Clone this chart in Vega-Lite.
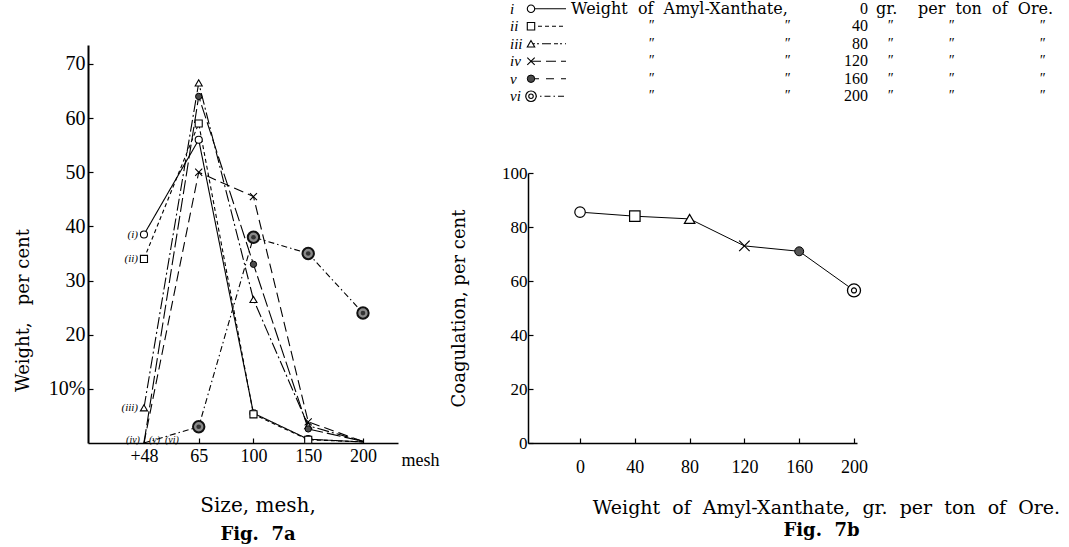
{
  "$schema": "https://vega.github.io/schema/vega-lite/v6.json",
  "background": "white",
  "padding": {"left": 14, "top": 0, "right": 0, "bottom": 0},
  "bounds": "flush",
  "spacing": 440,
  "config": {
    "view": {"stroke": null},
    "font": "DejaVu Serif",
    "axis": {
      "grid": false,
      "domainColor": "black",
      "domainWidth": 1.5,
      "tickColor": "black",
      "tickWidth": 1.2,
      "tickSize": -5,
      "labelColor": "black",
      "labelFont": "Liberation Serif",
      "titleColor": "black",
      "titleFont": "DejaVu Serif",
      "titleFontWeight": "normal",
      "titleFontSize": 18
    },
    "text": {"color": "black"}
  },
  "datasets": {
    "sieve": [
      {"s": "i", "tag": "(i)", "mesh": "+48", "w": 38.5},
      {"s": "i", "tag": "(i)", "mesh": "65", "w": 56},
      {"s": "i", "tag": "(i)", "mesh": "100", "w": 5.5},
      {"s": "i", "tag": "(i)", "mesh": "150", "w": 0.7},
      {"s": "i", "tag": "(i)", "mesh": "200", "w": 0.2},
      {"s": "ii", "tag": "(ii)", "mesh": "+48", "w": 34},
      {"s": "ii", "tag": "(ii)", "mesh": "65", "w": 59},
      {"s": "ii", "tag": "(ii)", "mesh": "100", "w": 5.3},
      {"s": "ii", "tag": "(ii)", "mesh": "150", "w": 0.6},
      {"s": "ii", "tag": "(ii)", "mesh": "200", "w": 0.2},
      {"s": "iii", "tag": "(iii)", "mesh": "+48", "w": 6.5},
      {"s": "iii", "tag": "(iii)", "mesh": "65", "w": 66.5},
      {"s": "iii", "tag": "(iii)", "mesh": "100", "w": 26.5},
      {"s": "iii", "tag": "(iii)", "mesh": "150", "w": 3.2},
      {"s": "iii", "tag": "(iii)", "mesh": "200", "w": 0.3},
      {"s": "iv", "tag": "(iv)", "mesh": "+48", "w": 0},
      {"s": "iv", "tag": "(iv)", "mesh": "65", "w": 50},
      {"s": "iv", "tag": "(iv)", "mesh": "100", "w": 45.5},
      {"s": "iv", "tag": "(iv)", "mesh": "150", "w": 3.9},
      {"s": "iv", "tag": "(iv)", "mesh": "200", "w": 0.3},
      {"s": "v", "tag": "(v)", "mesh": "+48", "w": 0},
      {"s": "v", "tag": "(v)", "mesh": "65", "w": 64},
      {"s": "v", "tag": "(v)", "mesh": "100", "w": 33},
      {"s": "v", "tag": "(v)", "mesh": "150", "w": 2.6},
      {"s": "v", "tag": "(v)", "mesh": "200", "w": 0.3},
      {"s": "vi", "tag": "(vi)", "mesh": "+48", "w": 0},
      {"s": "vi", "tag": "(vi)", "mesh": "65", "w": 3},
      {"s": "vi", "tag": "(vi)", "mesh": "100", "w": 38},
      {"s": "vi", "tag": "(vi)", "mesh": "150", "w": 35},
      {"s": "vi", "tag": "(vi)", "mesh": "200", "w": 24}
    ],
    "coag": [
      {"s": "i", "dose": 0, "coag": 85.5},
      {"s": "ii", "dose": 40, "coag": 84},
      {"s": "iii", "dose": 80, "coag": 83},
      {"s": "iv", "dose": 120, "coag": 73},
      {"s": "v", "dose": 160, "coag": 71},
      {"s": "vi", "dose": 200, "coag": 56.5}
    ]
  },
  "resolve": {"scale": {"x": "independent", "y": "independent", "shape": "independent", "strokeDash": "independent"}},
  "hconcat": [
    {
      "bounds": "flush",
      "spacing": 20,
      "vconcat": [
        {
          "width": 310,
          "height": 25,
          "data": {"values": []},
          "mark": {"type": "point", "opacity": 0}
        },
        {
          "width": 310,
          "height": 398,
          "data": {"name": "sieve"},
          "title": {
            "text": "Size, mesh,",
            "subtitle": "Fig.\u00a0\u00a07a",
            "orient": "bottom",
            "anchor": "middle",
            "frame": "group",
            "dx": 15,
            "offset": 27,
            "font": "DejaVu Serif",
            "fontSize": 20,
            "fontWeight": "normal",
            "color": "black",
            "subtitleFont": "DejaVu Serif",
            "subtitleFontSize": 18,
            "subtitleFontWeight": "bold",
            "subtitleColor": "black",
            "subtitlePadding": 10
          },
          "encoding": {
            "x": {
              "field": "mesh",
              "type": "ordinal",
              "sort": ["+48", "65", "100", "150", "200"],
              "scale": {"type": "point", "padding": 0.831, "align": 0.615},
              "axis": {
                "title": "mesh",
                "titleFont": "Liberation Serif",
                "titleFontSize": 18,
                "titleAngle": 0,
                "titleAlign": "left",
                "titleBaseline": "middle",
                "titleX": 313,
                "titleY": 17,
                "labelAngle": 0,
                "labelFontSize": 18,
                "labelPadding": 9
              }
            },
            "y": {
              "field": "w",
              "type": "quantitative",
              "scale": {"domain": [0, 73.5], "nice": false},
              "axis": {
                "title": "Weight,\u00a0\u00a0\u00a0per cent",
                "values": [10, 20, 30, 40, 50, 60, 70],
                "labelExpr": "datum.value == 10 ? '10%' : datum.label",
                "labelFontSize": 20,
                "labelPadding": 8,
                "domainWidth": 2,
                "titleX": -65,
                "titleY": 265,
                "titleAlign": "center",
                "titleBaseline": "middle"
              }
            }
          },
          "layer": [
            {
              "mark": {"type": "line", "color": "black", "strokeWidth": 1.1},
              "encoding": {
                "detail": {"field": "s"},
                "strokeDash": {
                  "field": "s",
                  "type": "nominal",
                  "scale": {
                    "domain": ["i", "ii", "iii", "iv", "v", "vi"],
                    "range": [[1, 0], [4, 3], [12, 3, 2, 3], [10, 5], [14, 4], [6, 3, 1.5, 3]]
                  },
                  "legend": null
                }
              }
            },
            {
              "transform": [{"filter": "indexof(['i','ii','iii','iv'], datum.s) >= 0 && datum.w >= 0.5"}],
              "mark": {"type": "point", "filled": true, "fill": "white", "stroke": "black", "strokeWidth": 1.1, "size": 50, "opacity": 1},
              "encoding": {
                "shape": {
                  "field": "s",
                  "type": "nominal",
                  "scale": {
                    "domain": ["i", "ii", "iii", "iv"],
                    "range": ["circle", "square", "triangle-up", "M-1,-1L1,1M-1,1L1,-1"]
                  },
                  "legend": null
                }
              }
            },
            {
              "transform": [{"filter": "datum.s == 'v' && datum.w >= 0.5"}],
              "mark": {"type": "point", "shape": "circle", "filled": true, "fill": "#4a4a4a", "stroke": "black", "strokeWidth": 1, "size": 40, "opacity": 1}
            },
            {
              "transform": [{"filter": "datum.s == 'vi' && datum.w >= 0.5"}],
              "mark": {"type": "point", "shape": "circle", "filled": true, "fill": "#8a8a8a", "stroke": "#111111", "strokeWidth": 2, "size": 130, "opacity": 1}
            },
            {
              "transform": [{"filter": "datum.s == 'vi' && datum.w >= 0.5"}],
              "mark": {"type": "point", "shape": "circle", "filled": true, "fill": "#333333", "size": 22, "opacity": 1}
            },
            {
              "transform": [{"filter": "datum.mesh == '+48' && indexof(['i','ii','iii'], datum.s) >= 0"}],
              "mark": {"type": "text", "align": "right", "baseline": "middle", "dx": -6, "font": "Liberation Serif", "fontStyle": "italic", "fontSize": 11},
              "encoding": {"text": {"field": "tag"}}
            },
            {
              "transform": [{"filter": "datum.mesh == '+48' && datum.s == 'iv'"}],
              "mark": {"type": "text", "align": "right", "baseline": "bottom", "dx": -4, "dy": 2, "font": "Liberation Serif", "fontStyle": "italic", "fontSize": 10},
              "encoding": {"text": {"field": "tag"}}
            },
            {
              "transform": [{"filter": "datum.mesh == '+48' && datum.s == 'v'"}],
              "mark": {"type": "text", "align": "left", "baseline": "bottom", "dx": 5, "dy": 2, "font": "Liberation Serif", "fontStyle": "italic", "fontSize": 10},
              "encoding": {"text": {"field": "tag"}}
            },
            {
              "transform": [{"filter": "datum.mesh == '+48' && datum.s == 'vi'"}],
              "mark": {"type": "text", "align": "left", "baseline": "bottom", "dx": 21, "dy": 2, "font": "Liberation Serif", "fontStyle": "italic", "fontSize": 10},
              "encoding": {"text": {"field": "tag"}}
            }
          ]
        }
      ]
    },
    {
      "bounds": "flush",
      "spacing": 68,
      "resolve": {"scale": {"x": "independent", "y": "independent", "shape": "independent", "strokeDash": "independent"}},
      "vconcat": [
        {
          "width": 41,
          "height": 105,
          "data": {"name": "coag"},
          "encoding": {
            "y": {
              "field": "s",
              "type": "nominal",
              "sort": ["i", "ii", "iii", "iv", "v", "vi"],
              "scale": {"type": "point", "padding": 0.5},
              "axis": null
            }
          },
          "layer": [
            {
              "mark": {"type": "rule", "color": "black", "strokeWidth": 1.1},
              "encoding": {
                "x": {"datum": "mark", "type": "nominal", "scale": {"type": "point", "domain": ["mark", "lineEnd"], "padding": 0.0857, "align": 0.5}, "axis": null},
                "x2": {"datum": "lineEnd"},
                "strokeDash": {
                  "field": "s",
                  "type": "nominal",
                  "scale": {
                    "domain": ["i", "ii", "iii", "iv", "v", "vi"],
                    "range": [[1, 0], [4, 3], [4, 2, 2, 3, 9, 3], [10, 5], [8, 7], [6, 3, 1.5, 3]]
                  },
                  "legend": null
                }
              }
            },
            {
              "transform": [{"filter": "indexof(['i','ii','iii','iv'], datum.s) >= 0"}],
              "mark": {"type": "point", "filled": true, "fill": "white", "stroke": "black", "strokeWidth": 1.1, "size": 55, "opacity": 1},
              "encoding": {
                "x": {"datum": "mark", "type": "nominal"},
                "shape": {
                  "field": "s",
                  "type": "nominal",
                  "scale": {
                    "domain": ["i", "ii", "iii", "iv"],
                    "range": ["circle", "square", "triangle-up", "M-1,-1L1,1M-1,1L1,-1"]
                  },
                  "legend": null
                }
              }
            },
            {
              "transform": [{"filter": "datum.s == 'v'"}],
              "mark": {"type": "point", "shape": "circle", "filled": true, "fill": "#4a4a4a", "stroke": "black", "strokeWidth": 1, "size": 55, "opacity": 1},
              "encoding": {"x": {"datum": "mark", "type": "nominal"}}
            },
            {
              "transform": [{"filter": "datum.s == 'vi'"}],
              "mark": {"type": "point", "shape": "circle", "filled": true, "fill": "white", "stroke": "black", "strokeWidth": 1.2, "size": 110, "opacity": 1},
              "encoding": {"x": {"datum": "mark", "type": "nominal"}}
            },
            {
              "transform": [{"filter": "datum.s == 'vi'"}],
              "mark": {"type": "point", "shape": "circle", "filled": false, "stroke": "black", "strokeWidth": 1.1, "size": 20, "opacity": 1},
              "encoding": {"x": {"datum": "mark", "type": "nominal"}}
            },
            {
              "mark": {"type": "text", "align": "left", "baseline": "middle", "dx": -21, "font": "Liberation Serif", "fontStyle": "italic", "fontSize": 15},
              "encoding": {"x": {"datum": "mark", "type": "nominal"}, "text": {"field": "s"}}
            },
            {
              "transform": [{"filter": "datum.s == 'i'"}],
              "mark": {"type": "text", "align": "left", "baseline": "middle", "dx": 5, "font": "DejaVu Serif", "fontSize": 16, "text": "Weight\u00a0 of\u00a0 Amyl-Xanthate,"},
              "encoding": {"x": {"datum": "lineEnd", "type": "nominal"}}
            },
            {
              "transform": [{"filter": "datum.s != 'i'"}],
              "mark": {"type": "text", "align": "center", "baseline": "middle", "dx": 85, "font": "Liberation Serif", "fontStyle": "italic", "fontSize": 14, "text": "″"},
              "encoding": {"x": {"datum": "lineEnd", "type": "nominal"}}
            },
            {
              "transform": [{"filter": "datum.s != 'i'"}],
              "mark": {"type": "text", "align": "center", "baseline": "middle", "dx": 221, "font": "Liberation Serif", "fontStyle": "italic", "fontSize": 14, "text": "″"},
              "encoding": {"x": {"datum": "lineEnd", "type": "nominal"}}
            },
            {
              "mark": {"type": "text", "align": "right", "baseline": "middle", "dx": 302, "font": "Liberation Serif", "fontSize": 16},
              "encoding": {"x": {"datum": "lineEnd", "type": "nominal"}, "text": {"field": "dose", "type": "quantitative"}}
            },
            {
              "transform": [{"filter": "datum.s == 'i'"}],
              "mark": {"type": "text", "align": "left", "baseline": "middle", "dx": 310, "font": "DejaVu Serif", "fontSize": 16, "text": "gr."},
              "encoding": {"x": {"datum": "lineEnd", "type": "nominal"}}
            },
            {
              "transform": [{"filter": "datum.s != 'i'"}],
              "mark": {"type": "text", "align": "center", "baseline": "middle", "dx": 324, "font": "Liberation Serif", "fontStyle": "italic", "fontSize": 14, "text": "″"},
              "encoding": {"x": {"datum": "lineEnd", "type": "nominal"}}
            },
            {
              "transform": [{"filter": "datum.s == 'i'"}],
              "mark": {"type": "text", "align": "left", "baseline": "middle", "dx": 352, "font": "DejaVu Serif", "fontSize": 16, "text": "per\u00a0 ton\u00a0 of\u00a0 Ore."},
              "encoding": {"x": {"datum": "lineEnd", "type": "nominal"}}
            },
            {
              "transform": [{"filter": "datum.s != 'i'"}],
              "mark": {"type": "text", "align": "center", "baseline": "middle", "dx": 385, "font": "Liberation Serif", "fontStyle": "italic", "fontSize": 14, "text": "″"},
              "encoding": {"x": {"datum": "lineEnd", "type": "nominal"}}
            },
            {
              "transform": [{"filter": "datum.s != 'i'"}],
              "mark": {"type": "text", "align": "center", "baseline": "middle", "dx": 476, "font": "Liberation Serif", "fontStyle": "italic", "fontSize": 14, "text": "″"},
              "encoding": {"x": {"datum": "lineEnd", "type": "nominal"}}
            }
          ]
        },
        {
          "width": 329,
          "height": 270,
          "data": {"name": "coag"},
          "title": {
            "text": "Fig.\u00a0\u00a07b",
            "orient": "bottom",
            "anchor": "middle",
            "frame": "group",
            "dx": 129,
            "offset": 5,
            "font": "DejaVu Serif",
            "fontSize": 18,
            "fontWeight": "bold",
            "color": "black"
          },
          "encoding": {
            "x": {
              "field": "dose",
              "type": "quantitative",
              "scale": {"domain": [-38, 202.2], "nice": false, "zero": false},
              "axis": {
                "values": [0, 40, 80, 120, 160, 200],
                "title": "Weight\u00a0 of\u00a0 Amyl-Xanthate,\u00a0 gr.\u00a0 per\u00a0 ton\u00a0 of\u00a0 Ore.",
                "titleFontSize": 19,
                "titleX": 298,
                "titleY": 64,
                "titleAlign": "center",
                "titleBaseline": "middle",
                "labelFontSize": 18,
                "labelPadding": 20
              }
            },
            "y": {
              "field": "coag",
              "type": "quantitative",
              "scale": {"domain": [0, 100], "nice": false},
              "axis": {
                "values": [0, 20, 40, 60, 80, 100],
                "title": "Coagulation, per cent",
                "titleX": -60,
                "labelFontSize": 17,
                "labelPadding": 6
              }
            }
          },
          "layer": [
            {"mark": {"type": "line", "color": "black", "strokeWidth": 1}},
            {
              "transform": [{"filter": "indexof(['i','ii','iii','iv'], datum.s) >= 0"}],
              "mark": {"type": "point", "filled": true, "fill": "white", "stroke": "black", "strokeWidth": 1.2, "size": 110, "opacity": 1},
              "encoding": {
                "shape": {
                  "field": "s",
                  "type": "nominal",
                  "scale": {
                    "domain": ["i", "ii", "iii", "iv"],
                    "range": ["circle", "square", "triangle-up", "M-1,-1L1,1M-1,1L1,-1"]
                  },
                  "legend": null
                }
              }
            },
            {
              "transform": [{"filter": "datum.s == 'v'"}],
              "mark": {"type": "point", "shape": "circle", "filled": true, "fill": "#555555", "stroke": "black", "strokeWidth": 1, "size": 80, "opacity": 1}
            },
            {
              "transform": [{"filter": "datum.s == 'vi'"}],
              "mark": {"type": "point", "shape": "circle", "filled": true, "fill": "white", "stroke": "black", "strokeWidth": 1.3, "size": 170, "opacity": 1}
            },
            {
              "transform": [{"filter": "datum.s == 'vi'"}],
              "mark": {"type": "point", "shape": "circle", "filled": false, "stroke": "black", "strokeWidth": 1.2, "size": 25, "opacity": 1}
            }
          ]
        }
      ]
    }
  ]
}
